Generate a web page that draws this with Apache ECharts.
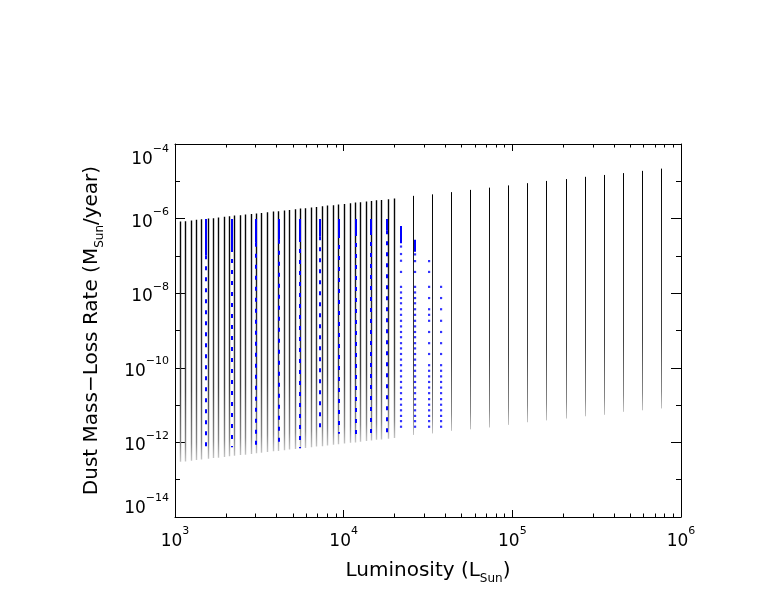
<!DOCTYPE html>
<html>
<head>
<meta charset="utf-8">
<script src="https://cdn.jsdelivr.net/npm/echarts@6/dist/echarts.min.js"></script>
<style>
  html, body { margin: 0; padding: 0; background: #fff; }
  #chart { width: 770px; height: 595px; }
</style>
</head>
<body>
<div id="chart"></div>
<script>
// model grid columns (luminosity, log10 of the top / bottom mass-loss rate of each column)
const blackLum = [1081, 1157, 1244, 1345, 1440, 1569, 1687, 1806, 1952, 2098,
  2259, 2428, 2625, 2822, 3021, 3266, 3525, 3825, 4119, 4445,
  4759, 5144, 5508, 5953, 6427, 6918, 7468, 8040, 8679, 9290,
  10083, 10897, 11717, 12607, 13561, 14520, 15689, 16800, 18380, 19870,
  25860, 33500, 43430, 56290, 72970, 94550, 123200, 159700, 207800, 270500,
  350600, 454500, 588800, 767400];
const blackTopLog = [-6.08, -6.07, -6.05, -6.03, -6.02, -6.00, -5.99, -5.97, -5.95, -5.94,
  -5.92, -5.91, -5.89, -5.88, -5.86, -5.85, -5.83, -5.81, -5.80, -5.78,
  -5.77, -5.75, -5.73, -5.72, -5.70, -5.69, -5.67, -5.65, -5.64, -5.62,
  -5.61, -5.59, -5.57, -5.56, -5.54, -5.53, -5.51, -5.50, -5.48, -5.46,
  -5.39, -5.35, -5.29, -5.23, -5.17, -5.11, -5.05, -4.99, -4.94, -4.88,
  -4.83, -4.78, -4.72, -4.66];
const blackBotLog = [-12.52, -12.51, -12.49, -12.47, -12.46, -12.44, -12.42, -12.41, -12.39, -12.37,
  -12.36, -12.34, -12.33, -12.31, -12.29, -12.28, -12.26, -12.24, -12.23, -12.21,
  -12.19, -12.18, -12.16, -12.15, -12.13, -12.11, -12.10, -12.08, -12.06, -12.05,
  -12.03, -12.01, -12.00, -11.98, -11.96, -11.95, -11.93, -11.92, -11.90, -11.88,
  -11.80, -11.76, -11.69, -11.65, -11.60, -11.53, -11.46, -11.41, -11.36, -11.30,
  -11.26, -11.18, -11.14, -11.09];

// blue columns: solid top part, then dotted down to the bottom
const blueLum = [1520, 2168, 3020, 4120, 5510, 7180, 9290, 11720, 14520, 17990, 21880, 26500];
const blueTopLog = [-6.01, -6.01, -6.01, -6.01, -6.01, -6.01, -6.01, -6.01, -6.01, -6.01, -6.20, -6.57];
const blueSolidEndLog = [-6.98, -6.79, -6.65, -6.57, -6.52, -6.47, -6.41, -6.36, -6.33, -6.31, -6.66, -6.89];
const blueBotLog = [-12.16, -12.13, -12.07, -12.14, -12.16, -11.77, -11.77, -11.80, -11.77, -11.78, null, null];

const blueDotLum = [21880, 26500, 32100, 37800];
const blueDotLog = [
  [-6.75, -6.95, -7.13, -7.43, -7.83, -7.98, -8.13, -8.27, -8.43, -8.58, -8.74, -8.89, -9.04, -9.18, -9.34,
   -9.48, -9.63, -9.78, -9.93, -10.08, -10.23, -10.38, -10.53, -10.68, -10.84, -10.99, -11.14, -11.29, -11.43, -11.58],
  [-6.96, -7.14, -7.43, -7.83, -7.98, -8.13, -8.27, -8.43, -8.58, -8.74, -8.89, -9.04, -9.18, -9.34,
   -9.48, -9.63, -9.78, -9.93, -10.08, -10.23, -10.38, -10.53, -10.68, -10.84, -10.99, -11.14, -11.29, -11.43, -11.58],
  [-7.14, -7.43, -7.83, -8.13, -8.43, -8.58, -8.74, -9.04, -9.34, -9.63, -9.93, -10.08, -10.23, -10.38,
   -10.53, -10.68, -10.84, -10.99, -11.14, -11.29, -11.43, -11.58],
  [-7.83, -8.13, -8.43, -8.74, -9.04, -9.34, -9.63, -9.93, -10.08, -10.23, -10.38, -10.53, -10.68,
   -10.84, -10.99, -11.14, -11.29, -11.43, -11.58]
];

// axis ticks
const xMajorTicks = [1e3, 1e4, 1e5, 1e6];
const xMinorTicks = [2000, 3000, 4000, 5000, 6000, 7000, 8000, 9000,
  20000, 30000, 40000, 50000, 60000, 70000, 80000, 90000,
  200000, 300000, 400000, 500000, 600000, 700000, 800000, 900000];
const yMajorTicks = [1e-14, 1e-12, 1e-10, 1e-8, 1e-6, 1e-4];
const yMinorTicks = [1e-13, 1e-11, 1e-9, 1e-7, 1e-5];

const FONT = 'DejaVu Sans';
const BLUE = '#0000ff';
const DENSE_COLS = 40; // the closely packed columns below ~2e4 Lsun

const labelRich = {
  b: { fontFamily: FONT, fontSize: 17, lineHeight: 24, verticalAlign: 'bottom', color: '#000' },
  s: { fontFamily: FONT, fontSize: 11, verticalAlign: 'top', color: '#000' }
};
const nameRich = {
  n: { fontFamily: FONT, fontSize: 20, lineHeight: 28, verticalAlign: 'middle', color: '#000' },
  sub: { fontFamily: FONT, fontSize: 12, verticalAlign: 'bottom', color: '#000' }
};

function expLabel(v) {
  const e = Math.round(Math.log10(v));
  return '{b|10}{s|' + (e < 0 ? '\u2212' + (-e) : e) + '}';
}

function makeX(pos, ticks, len, main) {
  return {
    type: 'log', min: 1e3, max: 1e6, position: pos,
    axisLine: { show: main, lineStyle: { color: '#000', width: 1 } },
    axisTick: { show: true, inside: true, length: len, customValues: ticks, lineStyle: { color: '#000', width: 1 } },
    axisLabel: { show: false },
    splitLine: { show: false }
  };
}
function makeY(pos, ticks, len, main) {
  return {
    type: 'log', min: 1e-14, max: 1e-4, position: pos,
    axisLine: { show: main, lineStyle: { color: '#000', width: 1 } },
    axisTick: { show: true, inside: true, length: len, customValues: ticks, lineStyle: { color: '#000', width: 1 } },
    axisLabel: { show: false },
    splitLine: { show: false }
  };
}

const xBottom = makeX('bottom', xMajorTicks, 7, true);
xBottom.axisLabel = { show: true, customValues: xMajorTicks, formatter: expLabel, margin: 9, rich: labelRich };
xBottom.name = '{n|Luminosity (L}{sub|Sun}{n|)}';
xBottom.nameLocation = 'middle';
xBottom.nameGap = 40;
xBottom.nameTextStyle = { rich: nameRich };

const yLeft = makeY('left', yMajorTicks, 10, true);
yLeft.axisLabel = {
  show: true, customValues: yMajorTicks, formatter: expLabel, margin: 6, rich: labelRich,
  verticalAlignMaxLabel: 'top', verticalAlignMinLabel: 'bottom'
};
yLeft.name = '{n|Dust Mass\u2212Loss Rate (M}{sub|Sun}{n|/year)}';
yLeft.nameLocation = 'middle';
yLeft.nameGap = 69;
yLeft.nameRotate = 90;
yLeft.nameTextStyle = { rich: nameRich };

const pow = e => Math.pow(10, e);
const colGradient = () => new echarts.graphic.LinearGradient(0, 0, 0, 1, [
  { offset: 0, color: '#000' },
  { offset: 0.7, color: '#444' },
  { offset: 0.92, color: '#888' },
  { offset: 1, color: '#ccc' }
]);

const blackData = blackLum.map((L, i) => ({
  coords: [[L, pow(blackBotLog[i])], [L, pow(blackTopLog[i])]],
  lineStyle: { width: i < DENSE_COLS ? 1.4 : 1, color: colGradient() }
}));
const blueSolidData = blueLum.map((L, i) => ({ coords: [[L, pow(blueSolidEndLog[i])], [L, pow(blueTopLog[i])]] }));
const blueDashData = [];
blueLum.forEach((L, i) => {
  if (blueBotLog[i] !== null) {
    blueDashData.push({ coords: [[L, pow(blueSolidEndLog[i])], [L, pow(blueBotLog[i])]] });
  }
});
const blueDots = [];
blueDotLum.forEach((L, i) => {
  blueDotLog[i].forEach(e => blueDots.push([L, pow(e)]));
});

const chart = echarts.init(document.getElementById('chart'), null, { renderer: 'canvas' });
chart.setOption({
  animation: false,
  backgroundColor: '#fff',
  grid: { left: 175, right: 89, top: 144, bottom: 78 },
  xAxis: [
    xBottom,
    makeX('bottom', xMinorTicks, 3.5, false),
    makeX('top', xMajorTicks, 7, true),
    makeX('top', xMinorTicks, 3.5, false)
  ],
  yAxis: [
    yLeft,
    makeY('left', yMinorTicks, 5, false),
    makeY('right', yMajorTicks, 10, true),
    makeY('right', yMinorTicks, 5, false)
  ],
  series: [
    {
      type: 'lines', coordinateSystem: 'cartesian2d', xAxisIndex: 0, yAxisIndex: 0,
      silent: true, z: 1,
      lineStyle: { width: 1.4, opacity: 1, color: '#333' },
      data: blackData
    },
    {
      type: 'lines', coordinateSystem: 'cartesian2d', xAxisIndex: 0, yAxisIndex: 0,
      silent: true, z: 2,
      lineStyle: { width: 2, opacity: 1, color: BLUE },
      data: blueSolidData
    },
    {
      type: 'lines', coordinateSystem: 'cartesian2d', xAxisIndex: 0, yAxisIndex: 0,
      silent: true, z: 2,
      lineStyle: { width: 2, opacity: 1, color: BLUE, type: [4, 7] },
      data: blueDashData
    },
    {
      type: 'scatter', xAxisIndex: 0, yAxisIndex: 0, silent: true, z: 3,
      symbol: 'rect', symbolSize: 2.2,
      itemStyle: { color: BLUE },
      data: blueDots
    }
  ]
});
</script>
</body>
</html>
